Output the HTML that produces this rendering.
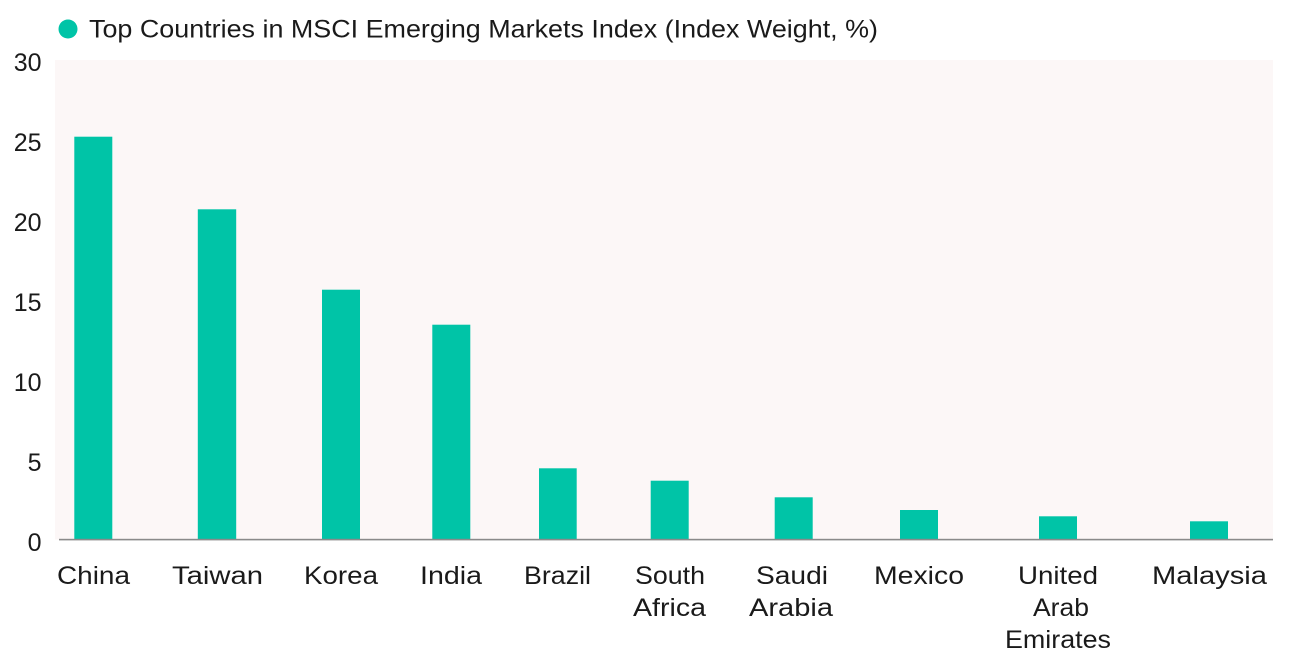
<!DOCTYPE html>
<html>
<head>
<meta charset="utf-8">
<style>
  html,body{margin:0;padding:0;background:#ffffff;}
  body{width:1291px;height:658px;overflow:hidden;}
  svg{display:block;}
  text{font-family:"Liberation Sans",sans-serif;fill:#1a1a1a;}
</style>
</head>
<body>
<svg width="1291" height="658" viewBox="0 0 1291 658" xmlns="http://www.w3.org/2000/svg">
  <rect x="0" y="0" width="1291" height="658" fill="#ffffff"/>
  <!-- plot background -->
  <rect x="55" y="60" width="1218" height="479.5" fill="#fcf7f7"/>

  <!-- legend / title -->
  <circle cx="68" cy="29" r="9.5" fill="#00c4a7"/>
  <text x="89" y="37.5" font-size="25" textLength="789" lengthAdjust="spacingAndGlyphs">Top Countries in MSCI Emerging Markets Index (Index Weight, %)</text>

  <!-- y tick labels -->
  <g font-size="25" text-anchor="end">
    <text x="41.5" y="71">30</text>
    <text x="41.5" y="151">25</text>
    <text x="41.5" y="231">20</text>
    <text x="41.5" y="311">15</text>
    <text x="41.5" y="391">10</text>
    <text x="41.5" y="471">5</text>
    <text x="41.5" y="551">0</text>
  </g>

  <!-- bars -->
  <g fill="#00c4a7">
    <rect x="74.3" y="136.7" width="38" height="402.8"/>
    <rect x="197.8" y="209.3" width="38.4" height="330.2"/>
    <rect x="322" y="289.7" width="38" height="249.8"/>
    <rect x="432.3" y="324.7" width="38" height="214.8"/>
    <rect x="539" y="468.3" width="37.7" height="71.2"/>
    <rect x="650.7" y="480.7" width="38" height="58.8"/>
    <rect x="774.7" y="497.3" width="38" height="42.2"/>
    <rect x="900" y="510" width="38" height="29.5"/>
    <rect x="1039" y="516.3" width="38" height="23.2"/>
    <rect x="1190" y="521.3" width="38" height="18.2"/>
  </g>

  <!-- x axis line -->
  <rect x="59" y="538.8" width="1214" height="1.6" fill="#8a8a8a"/>

  <!-- x labels -->
  <g font-size="25" text-anchor="middle">
    <text x="93.5" y="584" textLength="73" lengthAdjust="spacingAndGlyphs">China</text>
    <text x="217.5" y="584" textLength="91" lengthAdjust="spacingAndGlyphs">Taiwan</text>
    <text x="341" y="584" textLength="74" lengthAdjust="spacingAndGlyphs">Korea</text>
    <text x="451" y="584" textLength="62" lengthAdjust="spacingAndGlyphs">India</text>
    <text x="557.5" y="584" textLength="67" lengthAdjust="spacingAndGlyphs">Brazil</text>
    <text x="670" y="584" textLength="70" lengthAdjust="spacingAndGlyphs">South</text>
    <text x="669.5" y="616" textLength="73" lengthAdjust="spacingAndGlyphs">Africa</text>
    <text x="792" y="584" textLength="72" lengthAdjust="spacingAndGlyphs">Saudi</text>
    <text x="791" y="616" textLength="84" lengthAdjust="spacingAndGlyphs">Arabia</text>
    <text x="919" y="584" textLength="90" lengthAdjust="spacingAndGlyphs">Mexico</text>
    <text x="1058" y="584" textLength="80" lengthAdjust="spacingAndGlyphs">United</text>
    <text x="1061" y="616" textLength="56" lengthAdjust="spacingAndGlyphs">Arab</text>
    <text x="1058" y="648" textLength="106" lengthAdjust="spacingAndGlyphs">Emirates</text>
    <text x="1209.5" y="584" textLength="115" lengthAdjust="spacingAndGlyphs">Malaysia</text>
  </g>
</svg>
</body>
</html>
